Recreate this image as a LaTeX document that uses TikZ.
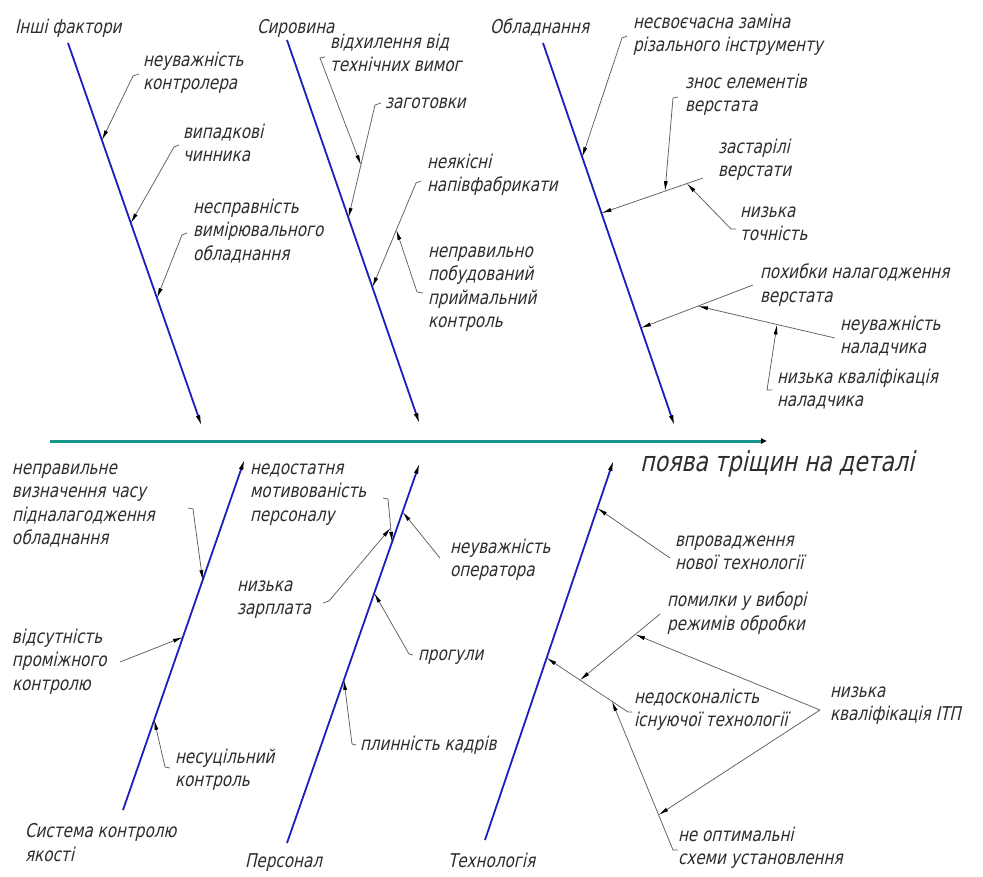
\documentclass[tikz,border=0pt]{standalone}
\usepackage{fontspec}
\setmainfont{DejaVu Sans}[FakeStretch=0.8,FakeSlant=0.22]
\usetikzlibrary{arrows.meta,calc}
\definecolor{bonec}{RGB}{30,30,190}
\definecolor{spinec}{RGB}{25,150,140}
\definecolor{leadc}{RGB}{95,95,95}
\definecolor{txtc}{RGB}{45,45,45}
\begin{document}
\begin{tikzpicture}[x=1pt,y=-1pt,
  lbl/.style={anchor=north west, inner sep=0pt, outer sep=0pt, yshift=11.25pt, align=left,
    text=txtc, font=\fontsize{19}{23.5}\selectfont, execute at begin node=\strut},
  bigtxt/.style={anchor=base west, inner sep=0pt, text=txtc, font=\fontsize{27.5}{32}\selectfont},
  bone/.style={draw=bonec, line width=1.8pt, -{Latex[length=12pt,width=4.5pt,color=black]}},
  spine/.style={draw=spinec, line width=3pt, -{Latex[length=13pt,width=5pt,color=black]}},
  lead/.style={draw=leadc, line width=0.75pt},
  leadarr/.style={lead, -{Latex[length=10pt,width=4pt,color=black]}}]
\path[use as bounding box, fill=white] (0,0) rectangle (983,876);

% bones and spine
\coordinate (b1s) at (68,43);   \coordinate (b1e) at (202,427);
\coordinate (b2s) at (287,40);  \coordinate (b2e) at (420,425);
\coordinate (b3s) at (543,43);  \coordinate (b3e) at (675,427);
\coordinate (b4s) at (123,810); \coordinate (b4e) at (245,458);
\coordinate (b5s) at (287,843); \coordinate (b5e) at (420,462);
\coordinate (b6s) at (485,840); \coordinate (b6e) at (614,459);
\coordinate (sps) at (50,441);  \coordinate (spe) at (774,441);

\draw[spine] (sps) -- (spe);
\foreach \b in {1,...,6} {\draw[bone] (b\b s) -- (b\b e);}

% category titles and effect
\node[lbl] (cat1) at (15,28) {Інші фактори};
\node[lbl] (cat2) at (257,28) {Сировина};
\node[lbl] (cat3) at (490,28) {Обладнання};
\node[lbl] (cat4) at (25,835) {Система контролю\\якості};
\node[lbl] (cat5) at (245,862) {Персонал};
\node[lbl] (cat6) at (448,862) {Технологія};
\node[bigtxt] (effect) at (640,471) {поява тріщин на деталі};

% targets on bones
\coordinate (t1) at ($(b1s)!0.253!(b1e)$);
\coordinate (t2) at ($(b1s)!0.469!(b1e)$);
\coordinate (t3) at ($(b1s)!0.664!(b1e)$);
\coordinate (t5) at ($(b2s)!0.462!(b2e)$);
\coordinate (t6) at ($(b2s)!0.642!(b2e)$);
\coordinate (t8) at ($(b3s)!0.297!(b3e)$);
\coordinate (t10) at ($(b3s)!0.443!(b3e)$);
\coordinate (t12) at ($(b3s)!0.742!(b3e)$);
\coordinate (u1) at ($(b4s)!0.653!(b4e)$);
\coordinate (u2) at ($(b4s)!0.491!(b4e)$);
\coordinate (u3) at ($(b4s)!0.256!(b4e)$);
\coordinate (u4) at ($(b5s)!0.790!(b5e)$);
\coordinate (u6) at ($(b5s)!0.869!(b5e)$);
\coordinate (u7) at ($(b5s)!0.656!(b5e)$);
\coordinate (u8) at ($(b5s)!0.428!(b5e)$);
\coordinate (u9) at ($(b6s)!0.871!(b6e)$);
\coordinate (u11) at ($(b6s)!0.478!(b6e)$);

% leader start points
\coordinate (l1a) at (139,74);  \coordinate (l1b) at (133,76);
\coordinate (l2a) at (179,145); \coordinate (l2b) at (174,147);
\coordinate (l3a) at (187,233); \coordinate (l3b) at (182,235);
\coordinate (l4a) at (325,57);  \coordinate (l4b) at (320,58);
\coordinate (l5a) at (381,103); \coordinate (l5b) at (375,105);
\coordinate (l6a) at (421,181); \coordinate (l6b) at (416,183);
\coordinate (l7a) at (423,293); \coordinate (l7b) at (417,292);
\coordinate (l8a) at (627,36);  \coordinate (l8b) at (622,38);
\coordinate (l9a) at (678,97);  \coordinate (l9b) at (673,98);
\coordinate (l10b) at (703,178);
\coordinate (l11a) at (736,229); \coordinate (l11b) at (731,229);
\coordinate (l12b) at (753,285);
\coordinate (l13b) at (835,338);
\coordinate (l14a) at (772,390); \coordinate (l14b) at (767,390);
\coordinate (m1a) at (188,508); \coordinate (m1b) at (193,509);
\coordinate (m2b) at (120,662);
\coordinate (m3a) at (170,768); \coordinate (m3b) at (165,767);
\coordinate (m4a) at (383,498); \coordinate (m4b) at (388,499);
\coordinate (m5a) at (323,603); \coordinate (m5b) at (329,601);
\coordinate (m6b) at (440,558);
\coordinate (m7a) at (413,655); \coordinate (m7b) at (409,654);
\coordinate (m8a) at (356,745); \coordinate (m8b) at (352,744);
\coordinate (m9b) at (670,558);
\coordinate (m10b) at (660,614);
\coordinate (m11a) at (632,712); \coordinate (m11b) at (628,712);
\coordinate (m12c) at (820,710);
\coordinate (m13a) at (678,850); \coordinate (m13b) at (673,850);

% targets on other leaders
\coordinate (s4) at ($(l5b)!0.531!(t5)$);
\coordinate (s7) at ($(l6b)!0.451!(t6)$);
\coordinate (s9) at ($(l10b)!0.374!(t10)$);
\coordinate (s11) at ($(l10b)!0.158!(t10)$);
\coordinate (s13) at ($(l12b)!0.491!(t12)$);
\coordinate (s14) at ($(l13b)!0.423!(s13)$);
\coordinate (v5) at ($(m4b)!0.67!(u4)$);
\coordinate (v10) at ($(m11b)!0.59!(u11)$);
\coordinate (v13) at ($(m11b)!0.197!(u11)$);
\coordinate (v12a) at ($(m10b)!0.31!(v10)$);
\coordinate (v12b) at ($(m13b)!0.236!(v13)$);

% cause labels
\node[lbl] (n1) at (143,63) {неуважність\\контролера};
\node[lbl] (n2) at (183,135) {випадкові\\чинника};
\node[lbl] (n3) at (193,210) {несправність\\вимірювального\\обладнання};
\node[lbl] (n4) at (330,45) {відхилення від\\технічних вимог};
\node[lbl] (n5) at (385,103) {заготовки};
\node[lbl] (n6) at (427,165) {неякісні\\напівфабрикати};
\node[lbl] (n7) at (428,258) {неправильно\\побудований\\приймальний\\контроль};
\node[lbl] (n8) at (633,25) {несвоєчасна заміна\\різального інструменту};
\node[lbl] (n9) at (685,85) {знос елементів\\верстата};
\node[lbl] (n10) at (718,150) {застарілі\\верстати};
\node[lbl] (n11) at (740,218) {низька\\точність};
\node[lbl] (n12) at (760,275) {похибки налагодження\\верстата};
\node[lbl] (n13) at (840,327) {неуважність\\наладчика};
\node[lbl] (n14) at (777,380) {низька кваліфікація\\наладчика};
\node[lbl] (p1) at (12,475) {неправильне\\визначення часу\\підналагодження\\обладнання};
\node[lbl] (p2) at (12,640) {відсутність\\проміжного\\контролю};
\node[lbl] (p3) at (175,760) {несуцільний\\контроль};
\node[lbl] (p4) at (250,475) {недостатня\\мотивованість\\персоналу};
\node[lbl] (p5) at (237,592) {низька\\зарплата};
\node[lbl] (p6) at (450,550) {неуважність\\оператора};
\node[lbl] (p7) at (418,655) {прогули};
\node[lbl] (p8) at (360,745) {плинність кадрів};
\node[lbl] (p9) at (675,547) {впровадження\\нової технології};
\node[lbl] (p10) at (667,603) {помилки у виборі\\режимів обробки};
\node[lbl] (p11) at (634,700) {недосконалість\\існуючої технології};
\node[lbl] (p12) at (830,698) {низька\\кваліфікація ІТП};
\node[lbl] (p13) at (678,838) {не оптимальні\\схеми установлення};

% leaders
\draw[leadarr] (l1a) -- (l1b) -- (t1);
\draw[leadarr] (l2a) -- (l2b) -- (t2);
\draw[leadarr] (l3a) -- (l3b) -- (t3);
\draw[leadarr] (l4a) -- (l4b) -- (s4);
\draw[leadarr] (l5a) -- (l5b) -- (t5);
\draw[leadarr] (l6a) -- (l6b) -- (t6);
\draw[leadarr] (l7a) -- (l7b) -- (s7);
\draw[leadarr] (l8a) -- (l8b) -- (t8);
\draw[leadarr] (l9a) -- (l9b) -- (s9);
\draw[leadarr] (l10b) -- (t10);
\draw[leadarr] (l11a) -- (l11b) -- (s11);
\draw[leadarr] (l12b) -- (t12);
\draw[leadarr] (l13b) -- (s13);
\draw[leadarr] (l14a) -- (l14b) -- (s14);
\draw[leadarr] (m1a) -- (m1b) -- (u1);
\draw[leadarr] (m2b) -- (u2);
\draw[leadarr] (m3a) -- (m3b) -- (u3);
\draw[leadarr] (m4a) -- (m4b) -- (u4);
\draw[leadarr] (m5a) -- (m5b) -- (v5);
\draw[leadarr] (m6b) -- (u6);
\draw[leadarr] (m7a) -- (m7b) -- (u7);
\draw[leadarr] (m8a) -- (m8b) -- (u8);
\draw[leadarr] (m9b) -- (u9);
\draw[leadarr] (m10b) -- (v10);
\draw[leadarr] (m11a) -- (m11b) -- (u11);
\draw[leadarr] (m12c) -- (v12a);
\draw[leadarr] (m12c) -- (v12b);
\draw[leadarr] (m13a) -- (m13b) -- (v13);
\end{tikzpicture}
\end{document}
